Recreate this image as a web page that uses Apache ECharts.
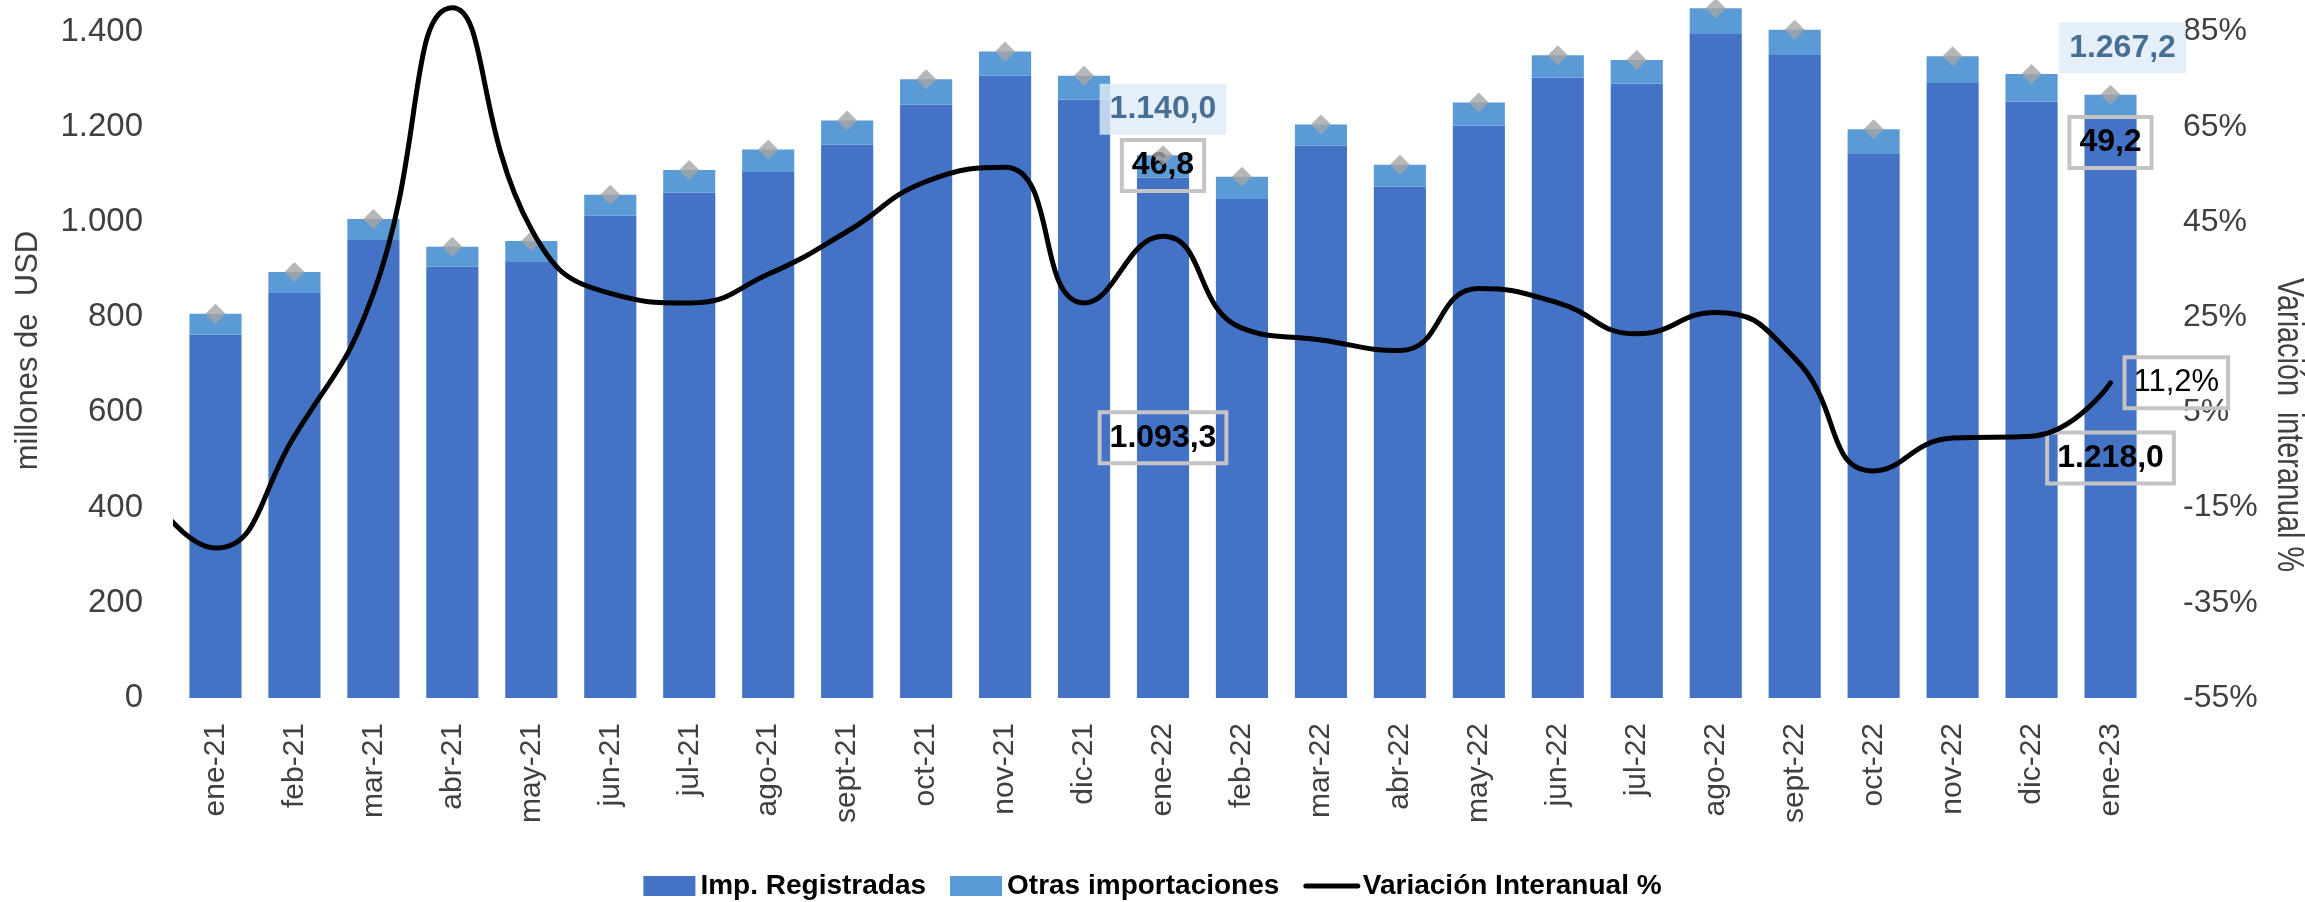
<!DOCTYPE html>
<html><head><meta charset="utf-8">
<script src="https://cdn.jsdelivr.net/npm/echarts@6/dist/echarts.min.js"></script>
<style>html,body{margin:0;padding:0;background:#fff}#c{width:2305px;height:902px}</style>
</head><body><div id="c"></div>
<script>
const meses = ['ene-21','feb-21','mar-21','abr-21','may-21','jun-21','jul-21','ago-21','sept-21','oct-21','nov-21','dic-21',
  'ene-22','feb-22','mar-22','abr-22','may-22','jun-22','jul-22','ago-22','sept-22','oct-22','nov-22','dic-22','ene-23'];
const impRegistradas = [763,851,962,906,916,1013,1062,1105,1163,1247,1307,1257,1093.3,1048,1160,1074,1202,1303,1291,1395,1351,1143,1292,1253,1218.0];
const otrasImportaciones = [44,44,44,42,44,44,47,47,50,53,51,50,46.8,47,45,46,49,47,49,54,53,52,56,58,49.2];
const totales = [807,895,1006,948,960,1057,1109,1152,1213,1300,1358,1307,1140.0,1095,1205,1120,1251,1350,1340,1449,1404,1195,1348,1311,1267.2];
const variacionDic20 = -8;
const variacion = [-23.5,0,30,90,43.5,30,28,34,43,53.5,56.5,28,42,22.7,20.2,18,31,28,21.5,26,16.4,-7.3,-0.4,0,11.2];
const ticksIzq = [0,200,400,600,800,1000,1200,1400];
const ticksDer = [-55,-35,-15,5,25,45,65,85];

const FONT = "'Liberation Sans', Arial, sans-serif";
function fmtNum(v, dec) {
  const s = v.toFixed(dec);
  const parts = s.split('.');
  const ent = parts[0].replace(/\B(?=(\d{3})+(?!\d))/g, '.');
  return parts.length > 1 ? ent + ',' + parts[1] : ent;
}
const boxLbl = {show:true, color:'#000', fontFamily:FONT, fontWeight:'bold', fontSize:32, lineHeight:35,
  borderColor:'#C4C4C4', borderWidth:2, padding:[8,10], backgroundColor:'transparent'};
const totLbl = {show:true, position:'inside', color:'#1F4E79', fontFamily:FONT, fontWeight:'bold', fontSize:32, lineHeight:35,
  backgroundColor:'#DEEBF7', padding:[8,10]};

const LAST = meses.length - 1;
const regData = impRegistradas.map((v,i) => {
  if (i === 12) return {value:v, label:Object.assign({}, boxLbl, {position:'inside', formatter:p=>fmtNum(p.value,1)})};
  if (i === LAST) return {value:v, label:Object.assign({}, boxLbl, {position:'inside', offset:[0,50], formatter:p=>fmtNum(p.value,1)})};
  return v;
});
const otrasData = otrasImportaciones.map((v,i) => {
  if (i === 12) return {value:v, label:Object.assign({}, boxLbl, {position:'inside', offset:[0,-1], formatter:p=>fmtNum(p.value,1)})};
  if (i === LAST) return {value:v, label:Object.assign({}, boxLbl, {position:'inside', offset:[0,36], formatter:p=>fmtNum(p.value,1)})};
  return v;
});
const totData = totales.map((v,i) => {
  if (i === 12) return {value:v, label:Object.assign({}, totLbl, {offset:[0,-46], formatter:p=>fmtNum(p.value,1)})};
  if (i === LAST) return {value:v, label:Object.assign({}, totLbl, {offset:[12,-47], formatter:p=>fmtNum(p.value,1)})};
  return v;
});
const lineData = [[-1, variacionDic20]].concat(variacion.map((v,i) => [i,v]));

const chart = echarts.init(document.getElementById('c'), null, {renderer:'canvas'});
chart.setOption({
  backgroundColor:'#fff',
  animation:false,
  grid:{left:176, right:155, top:3, bottom:204, containLabel:false},
  legend:{
    data:[{name:'Imp. Registradas', icon:'rect'},{name:'Otras importaciones', icon:'rect'},
      {name:'Variación Interanual %', itemStyle:{color:'rgba(0,0,0,0)', borderWidth:0}, lineStyle:{color:'#000', width:5}}],
    left:'center', top:867, itemWidth:52, itemHeight:20, itemGap:24, selectedMode:false,
    textStyle:{color:'#000', fontFamily:FONT, fontWeight:'bold', fontSize:28}
  },
  xAxis:[
    {type:'category', data:meses, boundaryGap:true,
      axisLine:{show:false}, axisTick:{show:false},
      axisLabel:{rotate:90, margin:25, color:'#404040', fontFamily:FONT, fontSize:30, interval:0}},
    {type:'value', min:-0.5, max:LAST + 0.5, show:false}
  ],
  yAxis:[
    {type:'value', min:0, max:1460, position:'left',
      name:'millones de  USD', nameLocation:'middle', nameRotate:90, nameGap:132,
      nameTextStyle:{color:'#404040', fontFamily:FONT, fontSize:31},
      axisLine:{show:false}, axisTick:{show:false}, splitLine:{show:false},
      axisLabel:{customValues:ticksIzq, margin:33, color:'#404040', fontFamily:FONT, fontSize:33,
        formatter:v=>fmtNum(v,0)}},
    {type:'value', min:-55, max:91, position:'right',
      axisLine:{show:false}, axisTick:{show:false}, splitLine:{show:false},
      axisLabel:{customValues:ticksDer, margin:33, color:'#404040', fontFamily:FONT, fontSize:32,
        formatter:v=>v+'%'}}
  ],
  graphic:[
    {type:'text', x:2288, y:425, rotation:-Math.PI/2, scaleX:0.8,
      style:{text:'Variación  interanual %', fill:'#404040', font:"36px 'Liberation Sans', Arial",
        textAlign:'center', textVerticalAlign:'middle', align:'center', verticalAlign:'middle'}}
  ],
  series:[
    {name:'Imp. Registradas', type:'bar', stack:'imp', data:regData, barWidth:'66%',
      itemStyle:{color:'#4472C4'}, z:2},
    {name:'Otras importaciones', type:'bar', stack:'imp', data:otrasData, barWidth:'66%',
      itemStyle:{color:'#5B9BD5'}, z:2},
    {name:'Total', type:'scatter', data:totData, symbol:'diamond', symbolSize:20,
      itemStyle:{color:'#A5A5A5'}, z:4},
    {name:'Variación Interanual %', type:'line', xAxisIndex:1, yAxisIndex:1, data:lineData,
      smooth:0.5, symbol:'none', clip:true, lineStyle:{color:'#000', width:5, cap:'round'}, itemStyle:{color:'#000'}, z:5,
      endLabel:{show:true, distance:14, color:'#000', fontFamily:FONT, fontSize:31, lineHeight:35,
        borderColor:'#C4C4C4', borderWidth:2, padding:[8,9], backgroundColor:'transparent',
        formatter:p=>fmtNum(p.value[1],1)+'%'}}
  ]
});
</script></body></html>
